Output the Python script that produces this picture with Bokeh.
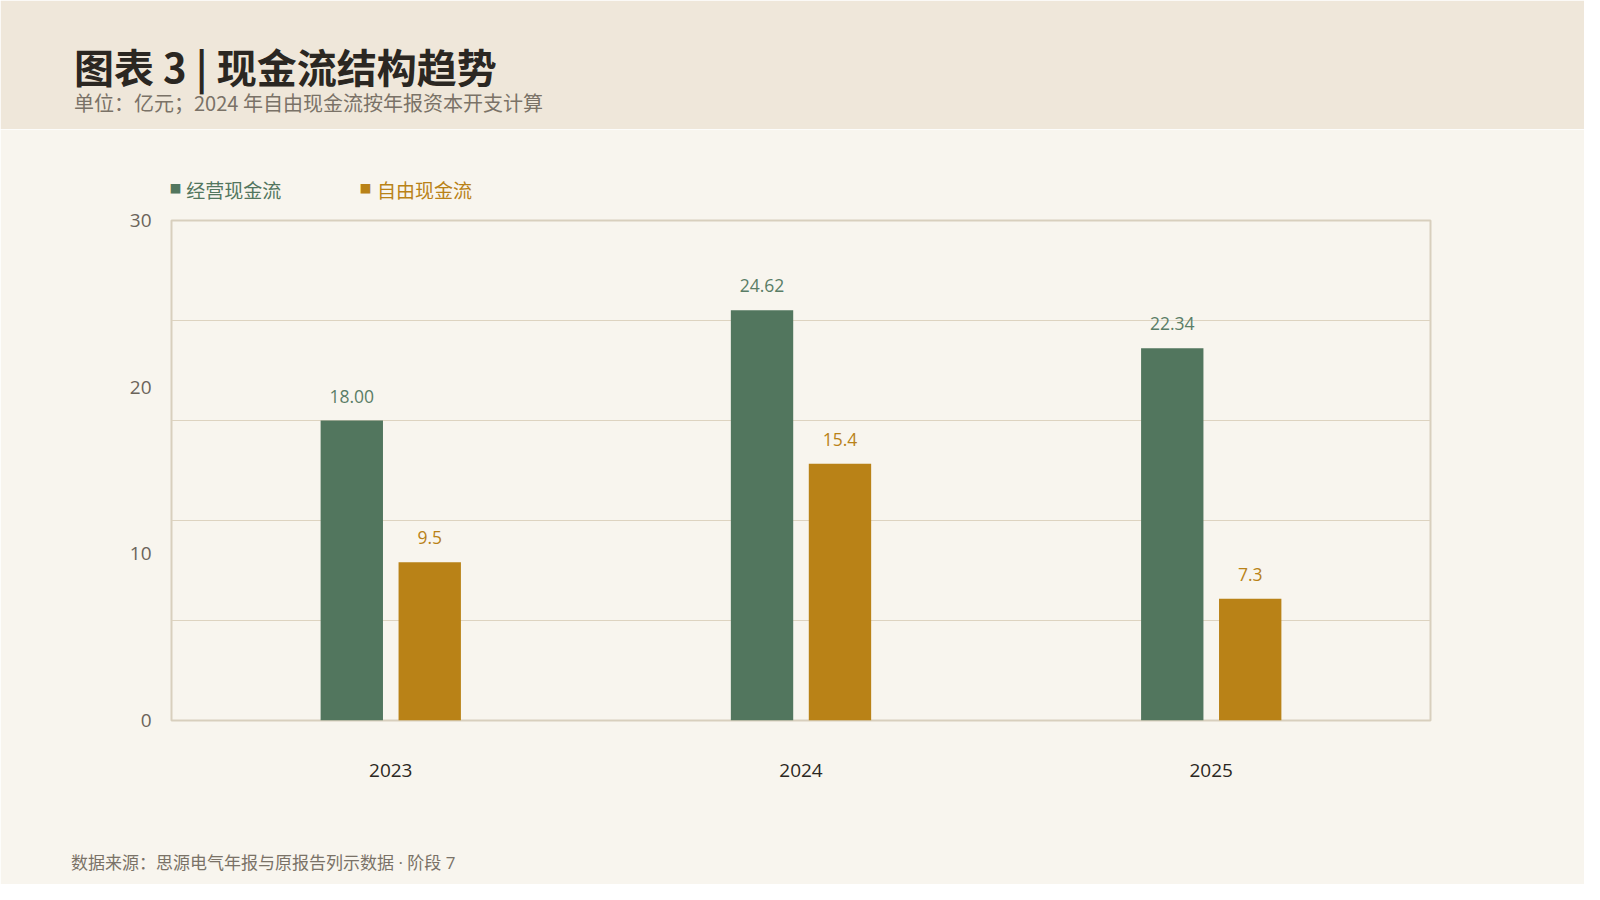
from bokeh.plotting import figure
from bokeh.models import FactorRange, Range1d, FixedTicker, Label, ColumnDataSource
from bokeh.transform import dodge
from bokeh.layouts import column
from bokeh.core.properties import value
from bokeh.embed import file_html
from bokeh.resources import INLINE

# ---- data ----
years = ["2023", "2024", "2025"]
operating_cf = [18.00, 24.62, 22.34]
free_cf = [9.5, 15.4, 7.3]
series_names = ["经营现金流", "自由现金流"]
y_ticks = [0, 10, 20, 30]
grid_ticks = [6, 12, 18, 24]
title_text = "图表 3 | 现金流结构趋势"
subtitle_text = "单位：亿元；2024 年自由现金流按年报资本开支计算"
footer_text = "数据来源：思源电气年报与原报告列示数据 · 阶段 7"

# ---- style / geometry (pixels) ----
FONT = "'Open Sans', 'Noto Sans CJK SC', sans-serif"
CJK = "'Noto Sans CJK SC', sans-serif"
GREEN = "#52765e"
GREEN_TXT = "#5a7d66"
GOLD = "#b98217"
HEADER_BG = "#efe7da"
BG = "#f8f5ee"
W = 1584
HEADER_H = 129
MAIN_H = 755
FRAME_L = 171
FRAME_R = 154
FRAME_T = 91
FRAME_B = 164
FRAME_H = MAIN_H - FRAME_T - FRAME_B
Y_MAX = 30
PX_PER_UNIT = FRAME_H / Y_MAX

# ---- header band with title / subtitle ----
H_TOP, H_BOT = 72, 40
header = figure(width=W, height=HEADER_H, title=None, output_backend="svg", toolbar_location=None,
                x_axis_type=None, y_axis_type=None,
                x_range=Range1d(0, 1), y_range=Range1d(HEADER_H - H_BOT, H_TOP),
                min_border_left=FRAME_L, min_border_right=FRAME_R,
                min_border_top=H_TOP, min_border_bottom=H_BOT)
header.grid.visible = False
header.outline_line_color = HEADER_BG
header.outline_line_width = 3
header.background_fill_color = HEADER_BG
header.border_fill_color = HEADER_BG
header.add_layout(Label(x=-97.5, x_units="screen", y=65, y_units="data", text=title_text,
                        text_font=CJK, text_font_size="40px", text_font_style="bold",
                        text_color="#2b2722", text_baseline="middle", text_align="left"), "above")
header.add_layout(Label(x=-97.5, x_units="screen", y=102, y_units="data", text=subtitle_text,
                        text_font=CJK, text_font_size="20px",
                        text_color="#7a7267", text_baseline="middle", text_align="left"), "below")

# ---- main chart ----
p = figure(width=W, height=MAIN_H, title=None,
           x_range=FactorRange(*years, range_padding=0.023),
           y_range=Range1d(0, Y_MAX),
           output_backend="svg", toolbar_location=None,
           min_border_left=FRAME_L, min_border_right=FRAME_R,
           min_border_top=FRAME_T, min_border_bottom=FRAME_B)
p.background_fill_color = BG
p.border_fill_color = BG
p.outline_line_color = "#d8cfbd"
p.outline_line_width = 2

src = ColumnDataSource(dict(
    year=years,
    op=operating_cf,
    fcf=free_cf,
    op_lab=[f"{v:.2f}" for v in operating_cf],
    fcf_lab=[f"{v:.1f}" for v in free_cf],
))

p.vbar(x=dodge("year", -0.095, range=p.x_range), top="op", width=0.152, source=src,
       fill_color=GREEN, line_color=None)
p.vbar(x=dodge("year", 0.095, range=p.x_range), top="fcf", width=0.152, source=src,
       fill_color=GOLD, line_color=None)

p.text(x=dodge("year", -0.095, range=p.x_range), y="op", text="op_lab", source=src,
       y_offset=-18, text_align="center", text_baseline="bottom",
       text_font=value(FONT), text_font_size="17.5px", text_color=GREEN_TXT)
p.text(x=dodge("year", 0.095, range=p.x_range), y="fcf", text="fcf_lab", source=src,
       y_offset=-18, text_align="center", text_baseline="bottom",
       text_font=value(FONT), text_font_size="17.5px", text_color=GOLD)

p.yaxis.ticker = FixedTicker(ticks=y_ticks)
p.ygrid.ticker = FixedTicker(ticks=grid_ticks)
p.ygrid.grid_line_color = "#ddd3c0"
p.ygrid.grid_line_width = 1
p.xgrid.grid_line_color = None
p.axis.axis_line_color = None
p.axis.major_tick_line_color = None
p.axis.minor_tick_line_color = None
p.axis.major_tick_in = 0
p.axis.major_tick_out = 0
p.yaxis.major_label_text_font = FONT
p.yaxis.major_label_text_font_size = "19px"
p.yaxis.major_label_text_color = "#6b645a"
p.yaxis.major_label_standoff = 20
p.xaxis.major_label_text_font = FONT
p.xaxis.major_label_text_font_size = "19px"
p.xaxis.major_label_text_color = "#2b2722"
p.xaxis.major_label_standoff = 43

# legend row above the frame (texts in the top border, squares in the bottom border panel;
# their vertical place is set through the y scale so it does not depend on the panel)
LEGEND_Y = Y_MAX + 30.6 / PX_PER_UNIT
FOOTER_Y = -141.8 / PX_PER_UNIT
p.add_layout(Label(x=14.7, x_units="screen", y=LEGEND_Y, y_units="data", text=series_names[0],
                   text_font=CJK, text_font_size="19px", text_color=GREEN,
                   text_baseline="middle", text_align="left"), "above")
p.add_layout(Label(x=205.6, x_units="screen", y=LEGEND_Y, y_units="data", text=series_names[1],
                   text_font=CJK, text_font_size="19px", text_color=GOLD,
                   text_baseline="middle", text_align="left"), "above")
p.add_layout(Label(x=-2, x_units="screen", y=LEGEND_Y, y_units="data", text="■",
                   text_font=FONT, text_font_size="12px", text_color=GREEN,
                   text_baseline="middle", text_align="left"), "below")
p.add_layout(Label(x=188, x_units="screen", y=LEGEND_Y, y_units="data", text="■",
                   text_font=FONT, text_font_size="12px", text_color=GOLD,
                   text_baseline="middle", text_align="left"), "below")

# footer
p.add_layout(Label(x=-100.5, x_units="screen", y=FOOTER_Y, y_units="data", text=footer_text,
                   text_font=FONT, text_font_size="17px",
                   text_color="#7a7267", text_baseline="middle", text_align="left"), "below")

layout = column(header, p, spacing=0)
open("out.html", "w").write(file_html(layout, INLINE))
